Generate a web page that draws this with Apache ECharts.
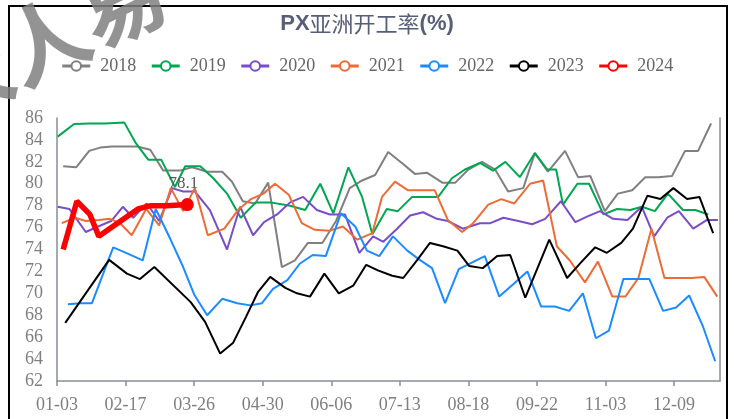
<!DOCTYPE html>
<html>
<head>
<meta charset="utf-8">
<script src="https://cdn.jsdelivr.net/npm/echarts/dist/echarts.min.js"></script>
<style>
  html,body{margin:0;padding:0;background:#fff;}
  #chart{width:734px;height:419px;}
</style>
</head>
<body>
<div id="chart"></div>
<script>
// x: position along the season axis, one tick label every 10 units
var tickLabels = ['01-03','02-17','03-26','04-30','06-06','07-13','08-18','09-22','11-03','12-09'];
var years = ['2018','2019','2020','2021','2022','2023','2024'];
var colors = ['#808080','#00a650','#7a4dc8','#ec6c35','#1a8cff','#000000','#ff0000'];

var x2018 = [0.9,2.8,4.7,6.3,8.0,9.9,11.7,13.6,15.5,17.9,19.7,21.9,24.1,25.5,27.1,28.9,30.8,32.8,34.7,36.6,38.7,40.7,42.7,44.5,46.4,48.3,50.3,52.2,54.0,56.2,58.1,60.0,62.0,63.9,65.8,68.0,69.7,71.6,74.1,76.0,77.8,79.9,81.8,83.9,85.8,87.7,89.7,91.6,93.5,95.4];
var y2018 = [81.6,81.5,83.0,83.3,83.4,83.4,83.4,83.1,81.2,81.2,81.5,81.1,81.1,80.2,78.4,78.2,80.1,72.4,73.0,74.6,74.6,76.6,79.6,80.3,80.8,82.9,81.9,80.9,81.0,80.1,80.1,81.3,82.0,81.3,79.3,79.6,82.8,81.1,83.0,80.6,80.7,77.5,79.1,79.4,80.6,80.6,80.7,83.0,83.0,85.5];

var x2019 = [0.1,2.5,4.8,7.0,9.8,11.5,13.3,15.2,17.2,18.7,20.9,22.8,24.8,26.8,29.0,31.1,34.0,36.2,38.4,40.3,42.5,44.5,46.0,48.1,49.7,51.8,53.7,55.6,57.6,59.5,61.7,63.6,65.4,67.5,69.7,71.5,72.8,73.8,75.9,77.6,79.7,81.7,83.6,85.3,87.2,89.1,91.3,93.1,95.0];
var y2019 = [84.3,85.45,85.5,85.5,85.6,83.7,82.2,82.2,79.7,81.6,81.6,80.5,79.1,76.9,78.3,78.3,78.0,77.6,80.0,77.3,81.5,78.8,75.4,77.7,77.5,78.8,78.8,78.8,80.5,81.3,81.9,81.2,82.0,80.6,82.8,81.3,81.3,78.1,80.0,80.0,77.2,77.7,77.6,77.9,77.5,79.1,77.6,77.6,77.2];

var x2020 = [0.1,1.8,4.2,6.0,7.9,9.6,11.1,13.1,14.9,16.8,18.4,20.1,22.3,24.8,26.7,28.6,30.2,32.1,34.0,35.9,37.9,39.8,42.0,44.1,46.1,47.6,49.6,51.5,53.4,55.4,57.0,59.2,61.7,63.2,65.1,67.3,69.3,71.2,73.5,75.6,77.3,79.2,81.1,83.2,85.3,87.1,89.0,90.7,92.8,94.8,96.4];
var y2020 = [77.9,77.7,75.6,76.1,76.6,77.9,76.9,78.2,76.6,79.6,79.3,79.3,77.6,74.0,77.9,75.3,76.5,77.2,78.3,78.8,77.6,77.2,77.2,73.7,75.2,74.7,75.9,77.1,77.4,76.8,76.6,75.9,76.4,76.4,76.9,76.6,76.3,76.8,78.4,76.5,77.0,77.5,76.8,76.7,77.9,75.2,76.9,77.5,75.9,76.7,76.7];

var x2021 = [0.7,2.6,4.2,6.1,7.7,9.2,10.9,13.0,14.9,16.6,18.4,20.1,22.0,24.4,26.4,28.3,30.1,31.8,33.8,35.7,37.6,39.7,41.7,43.8,46.0,47.4,49.3,51.2,53.2,55.1,57.0,59.1,60.7,62.9,64.8,66.7,69.0,70.9,72.9,74.8,77.0,78.9,81.0,82.9,84.8,86.7,88.6,90.4,92.5,94.4,96.3];
var y2021 = [76.4,76.9,76.6,76.7,76.8,76.4,75.3,77.7,76.2,79.6,77.5,79.6,75.3,75.9,77.6,78.6,79.1,80.0,79.0,76.4,75.8,75.7,76.1,74.9,75.5,78.8,80.2,79.4,79.4,79.4,76.7,75.6,76.4,78.1,78.6,78.2,80.0,80.3,74.3,73.0,71.0,72.9,69.7,69.7,71.4,75.9,71.4,71.4,71.4,71.5,69.7];

var x2022 = [1.6,3.4,5.1,8.2,10.4,12.5,14.4,16.5,18.4,20.0,21.9,24.1,26.3,28.2,29.9,31.5,33.6,35.4,37.3,39.2,41.4,43.5,45.2,47.0,49.0,51.1,52.8,54.7,56.6,58.6,62.4,64.5,66.5,68.6,70.6,72.6,74.7,76.7,78.6,80.5,82.6,84.5,86.4,88.4,90.3,92.2,94.2,96.0];
var y2022 = [69.0,69.1,69.1,74.2,73.6,73.0,77.7,75.0,72.4,69.9,68.0,69.5,69.1,68.9,69.1,70.4,71.2,72.7,73.5,73.4,77.3,76.1,73.9,73.4,75.2,73.9,73.1,72.3,69.1,72.2,73.4,69.7,70.8,72.0,68.8,68.8,68.4,70.0,65.9,66.6,71.3,71.3,71.3,68.4,68.7,69.8,67.0,63.8];

var x2023 = [1.2,7.6,10.2,12.1,14.2,19.5,21.6,23.8,25.7,27.6,29.3,31.1,33.3,35.0,36.9,39.0,41.1,43.2,45.1,46.8,48.9,50.5,52.5,54.4,56.3,58.4,60.1,62.1,64.2,66.1,68.3,71.8,74.4,76.4,78.5,80.2,82.3,84.0,86.1,88.0,89.9,91.9,93.7,95.7];
var y2023 = [67.3,73.05,71.8,71.3,72.4,69.2,67.4,64.5,65.5,67.9,70.1,71.5,70.5,70.0,69.7,71.8,70.0,70.7,72.6,72.1,71.6,71.4,73.0,74.6,74.3,73.9,72.5,72.3,73.4,73.5,69.6,74.9,71.4,72.8,74.2,73.7,74.6,75.9,78.9,78.6,79.6,78.6,78.8,75.5];

var x2024 = [0.9,2.9,4.8,6.1,11.8,13.7,16.0,19.0];
var y2024 = [74.0,78.4,77.2,75.2,77.7,78.0,78.0,78.1];

var xs = [x2018,x2019,x2020,x2021,x2022,x2023,x2024];
var ys = [y2018,y2019,y2020,y2021,y2022,y2023,y2024];

var axisColor = '#8a8d97';
var serif = 'Liberation Serif';

var myChart = echarts.init(document.getElementById('chart'));

var series = [];
for (var s = 0; s < years.length; s++) {
  var data = [];
  for (var i = 0; i < xs[s].length; i++) {
    data.push([xs[s][i], ys[s][i]]);
  }
  var isLast = s === years.length - 1;
  if (isLast) {
    // 最新一周打点并标数值
    var k = data.length - 1;
    data[k] = {
      value: data[k],
      symbol: 'circle',
      symbolSize: 13,
      label: {
        show: true,
        position: 'top',
        distance: 6,
        offset: [-4, 0],
        fontFamily: serif,
        fontSize: 17,
        color: '#595959'
      }
    };
  }
  series.push({
    name: years[s],
    type: 'line',
    data: data,
    symbol: 'emptyCircle',
    symbolSize: 0,
    showSymbol: isLast,
    lineStyle: { width: isLast ? 5.5 : 2, color: colors[s] },
    itemStyle: { color: colors[s] },
    z: 2 + s
  });
}

myChart.setOption({
  animation: false,
  backgroundColor: '#fff',
  title: {
    text: '{b|PX}{c|亚洲开工率}{b|(%)}',
    left: 'center',
    top: 8,
    textStyle: {
      rich: {
        b: { fontFamily: 'Liberation Sans', fontWeight: 'bold', fontSize: 22, color: '#575e77' },
        c: { fontFamily: 'Noto Sans CJK SC', fontWeight: 'normal', fontSize: 22, color: '#575e77' }
      }
    }
  },
  legend: {
    data: years,
    top: 52,
    left: 'center',
    itemWidth: 28,
    itemHeight: 12,
    itemGap: 14,
    lineStyle: { width: 3 },
    textStyle: { fontFamily: serif, fontSize: 18, color: '#666', padding: [0, 0, 0, 5] }
  },
  grid: { left: 57, right: 14, top: 118, bottom: 38 },
  xAxis: {
    type: 'value',
    min: 0,
    max: 96.7,
    interval: 10,
    axisLine: { show: true, lineStyle: { color: axisColor, width: 1.5 } },
    axisTick: { show: true, length: 5, lineStyle: { color: axisColor, width: 1.5 } },
    splitLine: { show: false },
    axisLabel: {
      margin: 15,
      fontFamily: serif,
      fontSize: 18,
      color: '#7f7f7f',
      showMaxLabel: false,
      formatter: function (v) {
        var idx = Math.round(v / 10);
        return Math.abs(v - idx * 10) < 0.01 && tickLabels[idx] ? tickLabels[idx] : '';
      }
    }
  },
  yAxis: [{
    type: 'value',
    min: 62,
    max: 86,
    interval: 2,
    axisLine: { show: true, lineStyle: { color: axisColor, width: 1.5 } },
    axisTick: { show: false },
    splitLine: { show: false },
    axisLabel: { margin: 14, fontFamily: serif, fontSize: 18, color: '#7f7f7f' }
  }, {
    type: 'value',
    position: 'right',
    min: 62,
    max: 86,
    interval: 2,
    axisLine: { show: true, lineStyle: { color: axisColor, width: 1.5 } },
    axisTick: { show: false },
    axisLabel: { show: false },
    splitLine: { show: false }
  }],
  graphic: [{
    type: 'rect',
    shape: { x: 9, y: 6, width: 718, height: 420 },
    style: { fill: 'none', stroke: '#000', lineWidth: 2 },
    z: 0
  }, {
    // 左上角水印
    type: 'text',
    x: -50,
    y: 135,
    rotation: 0.46,
    style: {
      text: '大人易',
      font: 'bold 85px "Noto Sans CJK SC"',
      fill: 'rgba(128,128,128,0.85)',
      textVerticalAlign: 'bottom'
    },
    z: 100
  }],
  series: series
});
</script>
</body>
</html>
